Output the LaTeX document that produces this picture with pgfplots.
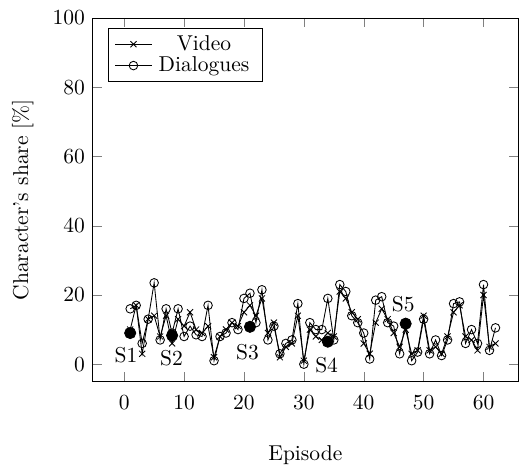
\documentclass[border=0pt]{standalone}
\usepackage{pgfplots}
\pgfplotsset{compat=1.18}
\usepackage{pgfplotstable}

% Share of screen time (video) and lines (dialogues) per episode
\pgfplotstableread{
ep video dial
1  10   16
2  17   17
3  3    6
4  13   13
5  14   23.5
6  8    7
7  14   16
8  6    9
9  13   16
10 11   8
11 15   11
12 10   8.5
13 9    8
14 11   17
15 2    1
16 8    8
17 10   9
18 12   12
19 11   10
20 15   19
21 17   20.5
22 14   12
23 19   21.5
24 9    7
25 12   11
26 2    3
27 5    6
28 6    7
29 14   17.5
30 1    0
31 10   12
32 8    10
33 7    10
34 9    19
35 8    7
36 21   23
37 19   21
38 15   14
39 13   12
40 6    9
41 3    1.5
42 12   18.5
43 16   19.5
44 13   12
45 9    11
46 5    3
47 10   12
48 3    1
49 4    3.5
50 14   13
51 4    3
52 5    7
53 3    2.5
54 8    7
55 15   17.5
56 17   18
57 8    6
58 7    10
59 4    6
60 20   23
61 5    4
62 6    10.5
}\shares

% Season averages
\pgfplotstableread{
ep val
1  9
8  8.3
21 10.8
34 6.5
47 11.7
}\seasons

\begin{document}
\begin{tikzpicture}
\begin{axis}[
  scale only axis,
  width=198pt, height=169pt,
  xmin=-5.3, xmax=65.8,
  ymin=-5, ymax=100,
  xtick={0,10,...,60},
  ytick={0,20,...,100},
  xlabel={Episode},
  ylabel={Character's share [\%]},
  xlabel style={yshift=-10pt},
  xticklabel style={yshift=-3pt},
  ylabel style={yshift=2pt},
  tick align=inside,
  legend cell align=center,
  legend style={at={(0.036,0.972)}, anchor=north west,
    inner xsep=3pt, inner ysep=1pt, row sep=-2.5pt,
    nodes={inner xsep=3pt}},
]
\addplot[black, mark=x, mark size=2pt] table[x=ep, y=video] {\shares};
\addlegendentry{Video}
\addplot[black, mark=o, mark size=2pt] table[x=ep, y=dial] {\shares};
\addlegendentry{Dialogues}
\addplot[only marks, black, mark=*, mark size=2.6pt, forget plot]
  table[x=ep, y=val] {\seasons};
\node at (axis cs:0.3,2.6) {S1};
\node at (axis cs:7.9,1.7) {S2};
\node at (axis cs:20.6,3.5) {S3};
\node at (axis cs:33.8,-0.3) {S4};
\node at (axis cs:46.6,17.2) {S5};
\coordinate (bl) at (rel axis cs:0,0);
\coordinate (tr) at (rel axis cs:1,1);
\end{axis}
% page margins around the axis box
\path (bl) ++(-43pt,-25.6pt) coordinate (pbl);
\path (tr) ++(5pt,8.4pt) coordinate (ptr);
\useasboundingbox (pbl) rectangle (ptr);
\end{tikzpicture}
\end{document}
